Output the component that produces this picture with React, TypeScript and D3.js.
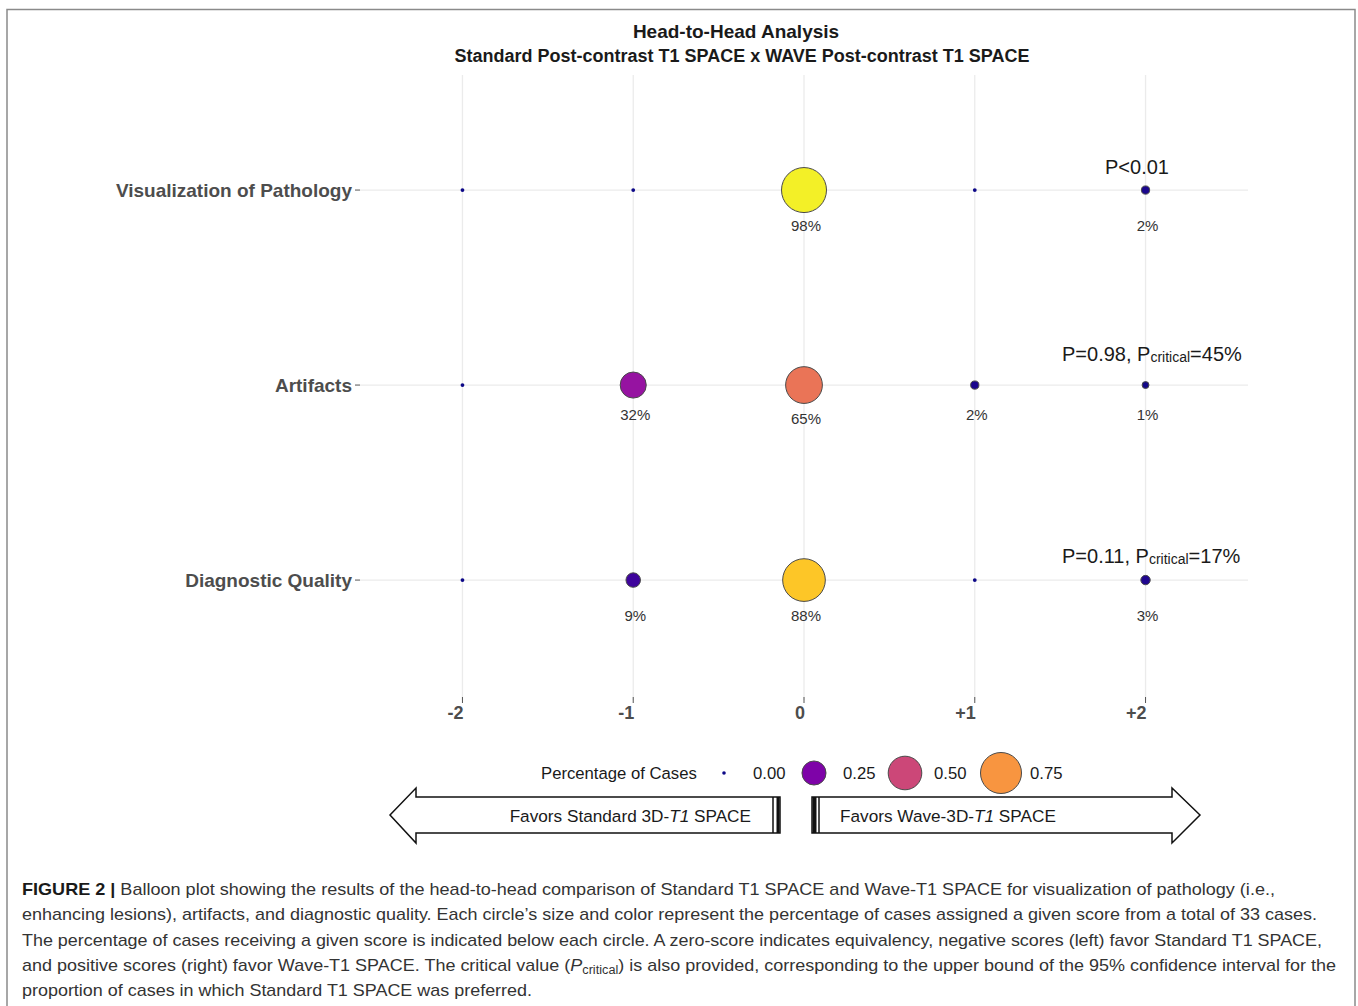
import React from "react";
import * as d3 from "d3";

// chart data
const criteria = ["Visualization of Pathology", "Artifacts", "Diagnostic Quality"];
const scores = [-2, -1, 0, 1, 2];
const scoreLabels = ["-2", "-1", "0", "+1", "+2"];
const visualization = [0, 0, 0.98, 0, 0.02];
const artifacts = [0, 0.32, 0.65, 0.02, 0.01];
const diagnostic = [0, 0.09, 0.88, 0, 0.03];
const pValues = ["P<0.01", "P=0.98, ", "P=0.11, "];
const pCritical = ["", "=45%", "=17%"];
const legendBreaks = [0, 0.25, 0.5, 0.75];

const captionLines = [
  "Balloon plot showing the results of the head-to-head comparison of Standard T1 SPACE and Wave-T1 SPACE for visualization of pathology (i.e.,",
  "enhancing lesions), artifacts, and diagnostic quality. Each circle\u2019s size and color represent the percentage of cases assigned a given score from a total of 33 cases.",
  "The percentage of cases receiving a given score is indicated below each circle. A zero-score indicates equivalency, negative scores (left) favor Standard T1 SPACE,",
  "and positive scores (right) favor Wave-T1 SPACE. The critical value (",
  "proportion of cases in which Standard T1 SPACE was preferred.",
];
const captionLine4End =
  ") is also provided, corresponding to the upper bound of the 95% confidence interval for the";

const values = [visualization, artifacts, diagnostic];

const W = 1358;
const H = 1006;
const FONT = "'Liberation Sans', Arial, sans-serif";

export default function App() {
  const x = d3.scaleLinear().domain([-2.6, 2.6]).range([360, 1248]);
  const y = d3.scaleLinear().domain([-0.59, 2.615]).range([75, 700]);
  const r = d3.scaleRadial().domain([0, 0.98]).range([2.6, 22.5]);
  const color = (v: number) => d3.interpolatePlasma(v);

  const labelOffset = [36, 30, 36];
  const pY = [167, 354, 556];
  const pX = [1105, 1062, 1062];

  const points = criteria.flatMap((c, i) =>
    scores.map((s, j) => ({ row: i, score: s, v: values[i][j] }))
  );

  // legend layout
  const legendY = 773;
  const legendX = [724, 814, 905, 1001];
  const legendR = d3.scaleRadial().domain([0, 0.75]).range([2.6, 20.5]);

  // arrows
  const arrowTop = 797, arrowBot = 833, headTop = 788, headBot = 843, mid = 815;
  const leftArrow = [
    [390, mid], [416, headTop], [416, arrowTop], [780, arrowTop],
    [780, arrowBot], [416, arrowBot], [416, headBot],
  ];
  const rightArrow = [
    [1200, mid], [1172, headTop], [1172, arrowTop], [812, arrowTop],
    [812, arrowBot], [1172, arrowBot], [1172, headBot],
  ];
  const poly = (p: number[][]) => p.map((d) => d.join(",")).join(" ");

  const captionY = [889, 914, 940, 965, 990];
  const captionW = [1253, 1295, 1300, 1314, 510];

  return (
    <svg
      width={W}
      height={H}
      style={{ position: "absolute", left: 0, top: 0, background: "#fff" }}
      fontFamily={FONT}
    >
      <rect x={7} y={9.5} width={1348} height={1000} fill="#fff" stroke="#8a8a8a" strokeWidth={1.5} />

      {/* title */}
      <text x={736} y={38} textAnchor="middle" fontSize={19} fontWeight="bold" fill="#1a1a1a">
        Head-to-Head Analysis
      </text>
      <text x={742} y={62} textAnchor="middle" fontSize={18} fontWeight="bold" fill="#1a1a1a">
        Standard Post-contrast T1 SPACE x WAVE Post-contrast T1 SPACE
      </text>

      {/* grid */}
      {scores.map((s) => (
        <line key={"gx" + s} x1={x(s)} x2={x(s)} y1={75} y2={700} stroke="#ebebeb" strokeWidth={1.3} />
      ))}
      {criteria.map((c, i) => (
        <line key={"gy" + i} x1={360} x2={1248} y1={y(i)} y2={y(i)} stroke="#ebebeb" strokeWidth={1.3} />
      ))}

      {/* x axis */}
      {scores.map((s, j) => (
        <g key={"xt" + s}>
          <line x1={x(s)} x2={x(s)} y1={697} y2={703} stroke="#555" strokeWidth={1} />
          <text x={x(s) + 1} y={719} textAnchor="end" fontSize={18} fontWeight="bold" fill="#4d4d4d">
            {scoreLabels[j]}
          </text>
        </g>
      ))}

      {/* y axis */}
      {criteria.map((c, i) => (
        <g key={"yt" + i}>
          <line x1={355} x2={360} y1={y(i)} y2={y(i)} stroke="#555" strokeWidth={1} />
          <text x={352} y={y(i) + 7} textAnchor="end" fontSize={19} fontWeight="bold" fill="#4d4d4d">
            {c}
          </text>
        </g>
      ))}

      {/* balloons */}
      {points.map((p, k) => (
        <circle
          key={"pt" + k}
          cx={x(p.score)}
          cy={y(p.row)}
          r={p.v > 0 ? r(p.v) : 1.9}
          fill={color(p.v)}
          stroke="#4a4a4a"
          strokeWidth={p.v > 0 ? 1 : 0}
        />
      ))}
      {points
        .filter((p) => p.v > 0)
        .map((p, k) => (
          <text
            key={"pl" + k}
            x={x(p.score) + 2}
            y={y(p.row) + labelOffset[p.row] + (p.v > 0.5 && p.row === 1 ? 4 : 0) + 5}
            textAnchor="middle"
            fontSize={15}
            fill="#333"
          >
            {Math.round(p.v * 100) + "%"}
          </text>
        ))}

      {/* p-values */}
      {criteria.map((c, i) => (
        <text key={"pv" + i} x={pX[i]} y={pY[i] + 7} fontSize={20} fill="#1a1a1a">
          {pValues[i]}
          {pCritical[i] && (
            <>
              <tspan>P</tspan>
              <tspan fontSize={14} dy={1}>critical</tspan>
              <tspan dy={-1}>{pCritical[i]}</tspan>
            </>
          )}
        </text>
      ))}

      {/* legend */}
      <text x={541} y={legendY + 6} fontSize={16.7} fill="#1a1a1a">
        Percentage of Cases
      </text>
      {legendBreaks.map((b, k) => (
        <g key={"lg" + k}>
          <circle
            cx={legendX[k]}
            cy={legendY}
            r={b === 0 ? 1.8 : legendR(b)}
            fill={color(b)}
            stroke="#4a4a4a"
            strokeWidth={b === 0 ? 0 : 1}
          />
          <text x={legendX[k] + 29} y={legendY + 6} fontSize={16.7} fill="#1a1a1a">
            {b.toFixed(2)}
          </text>
        </g>
      ))}

      {/* arrows */}
      <polygon points={poly(leftArrow)} fill="#fff" stroke="#111" strokeWidth={1.5} />
      <line x1={773} x2={773} y1={arrowTop} y2={arrowBot} stroke="#111" strokeWidth={1.5} />
      <line x1={778} x2={778} y1={arrowTop} y2={arrowBot} stroke="#111" strokeWidth={3} />
      <polygon points={poly(rightArrow)} fill="#fff" stroke="#111" strokeWidth={1.5} />
      <line x1={814.5} x2={814.5} y1={arrowTop} y2={arrowBot} stroke="#111" strokeWidth={4} />
      <line x1={819} x2={819} y1={arrowTop} y2={arrowBot} stroke="#111" strokeWidth={1.5} />
      <text x={751} y={822} textAnchor="end" fontSize={17.2} fill="#1a1a1a">
        Favors Standard 3D-<tspan fontStyle="italic">T1</tspan> SPACE
      </text>
      <text x={840} y={822} fontSize={17.2} fill="#1a1a1a">
        Favors Wave-3D-<tspan fontStyle="italic">T1</tspan> SPACE
      </text>

      {/* caption */}
      <g fontSize={17} fill="#333">
        <text x={22} y={captionY[0] + 6} textLength={captionW[0]} lengthAdjust="spacingAndGlyphs">
          <tspan fontWeight="bold" fill="#1a1a1a">FIGURE 2 | </tspan>
          {captionLines[0]}
        </text>
        <text x={22} y={captionY[1] + 6} textLength={captionW[1]} lengthAdjust="spacingAndGlyphs">
          {captionLines[1]}
        </text>
        <text x={22} y={captionY[2] + 6} textLength={captionW[2]} lengthAdjust="spacingAndGlyphs">
          {captionLines[2]}
        </text>
        <text x={22} y={captionY[3] + 6} textLength={captionW[3]} lengthAdjust="spacingAndGlyphs">
          {captionLines[3]}
          <tspan fontStyle="italic">P</tspan>
          <tspan fontSize={12} dy={3}>critical</tspan>
          <tspan dy={-3}>{captionLine4End}</tspan>
        </text>
        <text x={22} y={captionY[4] + 6} textLength={captionW[4]} lengthAdjust="spacingAndGlyphs">
          {captionLines[4]}
        </text>
      </g>
    </svg>
  );
}
